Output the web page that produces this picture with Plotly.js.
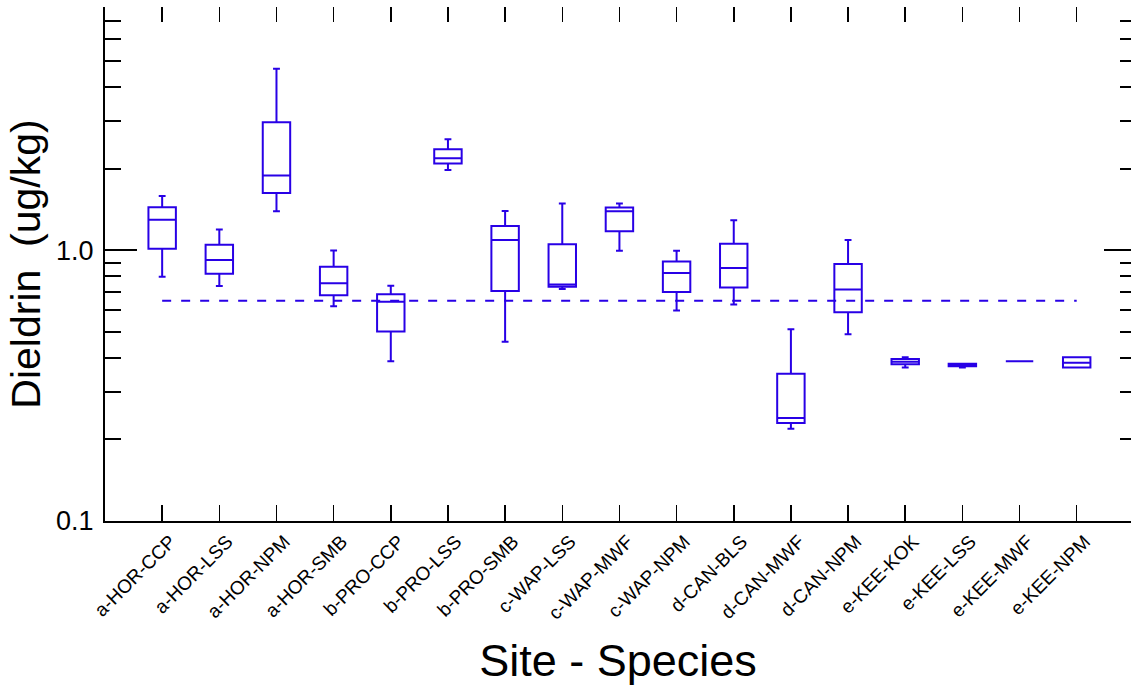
<!DOCTYPE html>
<html>
<head>
<meta charset="utf-8">
<script src="https://cdn.plot.ly/plotly-3.0.1.min.js"></script>
<style>html,body{margin:0;padding:0;background:#fff;}#chart{width:1131px;height:687px;}</style>
</head>
<body>
<div id="chart"></div>
<script>
var categories = ["a-HOR-CCP","a-HOR-LSS","a-HOR-NPM","a-HOR-SMB","b-PRO-CCP","b-PRO-LSS","b-PRO-SMB","c-WAP-LSS","c-WAP-MWF","c-WAP-NPM","d-CAN-BLS","d-CAN-MWF","d-CAN-NPM","e-KEE-KOK","e-KEE-LSS","e-KEE-MWF","e-KEE-NPM"];
var lowerWhisker = [0.797,0.737,1.393,0.620,0.389,1.978,0.459,0.718,0.994,0.599,0.630,0.219,0.489,0.369,0.369,0.389,0.369];
var q1Values     = [1.011,0.818,1.627,0.682,0.501,2.089,0.706,0.732,1.175,0.700,0.728,0.230,0.590,0.379,0.373,0.389,0.369];
var medianValues = [1.294,0.919,1.886,0.755,0.645,2.185,1.091,0.747,1.393,0.824,0.860,0.240,0.716,0.387,0.378,0.389,0.384];
var q3Values     = [1.441,1.046,2.967,0.868,0.688,2.359,1.229,1.052,1.437,0.908,1.055,0.350,0.888,0.396,0.381,0.389,0.402];
var upperWhisker = [1.586,1.192,4.670,0.997,0.738,2.569,1.396,1.487,1.487,0.994,1.290,0.510,1.089,0.402,0.381,0.389,0.402];
var referenceLevel = 0.65;
var yMajorTicks = [0.1, 1];
var yMajorLabels = ["0.1", "1.0"];
var yMinorTicks = [0.2,0.3,0.4,0.5,0.6,0.7,0.8,0.9,2,3,4,5,6,7];

var blue = "rgb(40,0,230)";
var font = "Liberation Sans, Arial, sans-serif";
var yRange = [-1, Math.log10(7.9)];
var xRange = [-1, 16.95];
var idx = categories.map(function(c,i){return i;});

var traces = [
  {
    type: "box",
    x: categories,
    q1: q1Values,
    median: medianValues,
    q3: q3Values,
    lowerfence: lowerWhisker,
    upperfence: upperWhisker,
    boxpoints: false,
    width: 0.48,
    whiskerwidth: 0.25,
    line: {color: blue, width: 2},
    fillcolor: "rgba(0,0,0,0)",
    showlegend: false,
    hoverinfo: "skip"
  },
  {
    type: "scatter",
    mode: "lines",
    x: [categories[0], categories[categories.length-1]],
    y: [referenceLevel, referenceLevel],
    line: {color: blue, width: 2, dash: "9px,10px"},
    showlegend: false,
    hoverinfo: "skip"
  },
  {
    type: "scatter",
    mode: "lines",
    x: [],
    y: [],
    xaxis: "x2",
    yaxis: "y2",
    showlegend: false,
    hoverinfo: "skip"
  }
];

var layout = {
  width: 1131,
  height: 687,
  margin: {l: 105, r: 0, t: 7, b: 166},
  paper_bgcolor: "#fff",
  plot_bgcolor: "#fff",
  font: {family: font, color: "#000"},
  showlegend: false,
  xaxis: {
    type: "category",
    range: xRange,
    showline: true,
    linecolor: "#000",
    linewidth: 2,
    showgrid: false,
    zeroline: false,
    ticks: "inside",
    ticklen: 16,
    tickwidth: 1.5,
    tickcolor: "#000",
    tickangle: -45,
    ticklabelshift: 8,
    tickfont: {size: 19, family: font, color: "#000"},
    title: {text: "Site - Species", font: {size: 45, family: font, color: "#000"}, standoff: 22},
    automargin: false
  },
  yaxis: {
    type: "log",
    range: yRange,
    showline: true,
    linecolor: "#000",
    linewidth: 2,
    showgrid: false,
    zeroline: false,
    tickmode: "array",
    tickvals: yMajorTicks,
    ticktext: yMajorLabels,
    ticks: "inside",
    ticklen: 32,
    tickwidth: 2,
    tickcolor: "#000",
    ticklabelstandoff: 4,
    tickfont: {size: 27, family: font, color: "#000"},
    minor: {tickmode: "array", tickvals: yMinorTicks, ticks: "inside", ticklen: 16, tickwidth: 2, tickcolor: "#000", showgrid: false},
    title: {text: "Dieldrin  (ug/kg)", font: {size: 41, family: font, color: "#000"}, standoff: 3},
    automargin: false
  },
  xaxis2: {
    overlaying: "x",
    side: "top",
    type: "linear",
    range: xRange,
    showline: false,
    showgrid: false,
    zeroline: false,
    tickmode: "array",
    tickvals: idx,
    showticklabels: false,
    ticks: "inside",
    ticklen: 15,
    tickwidth: 1.5,
    tickcolor: "#000"
  },
  yaxis2: {
    overlaying: "y",
    side: "right",
    type: "log",
    range: yRange,
    showline: false,
    showgrid: false,
    zeroline: false,
    tickmode: "array",
    tickvals: [1],
    showticklabels: false,
    ticks: "inside",
    ticklen: 27,
    tickwidth: 2,
    tickcolor: "#000",
    minor: {tickmode: "array", tickvals: yMinorTicks, ticks: "inside", ticklen: 11, tickwidth: 2, tickcolor: "#000", showgrid: false}
  }
};

Plotly.newPlot("chart", traces, layout, {staticPlot: true, displayModeBar: false});
</script>
</body>
</html>
